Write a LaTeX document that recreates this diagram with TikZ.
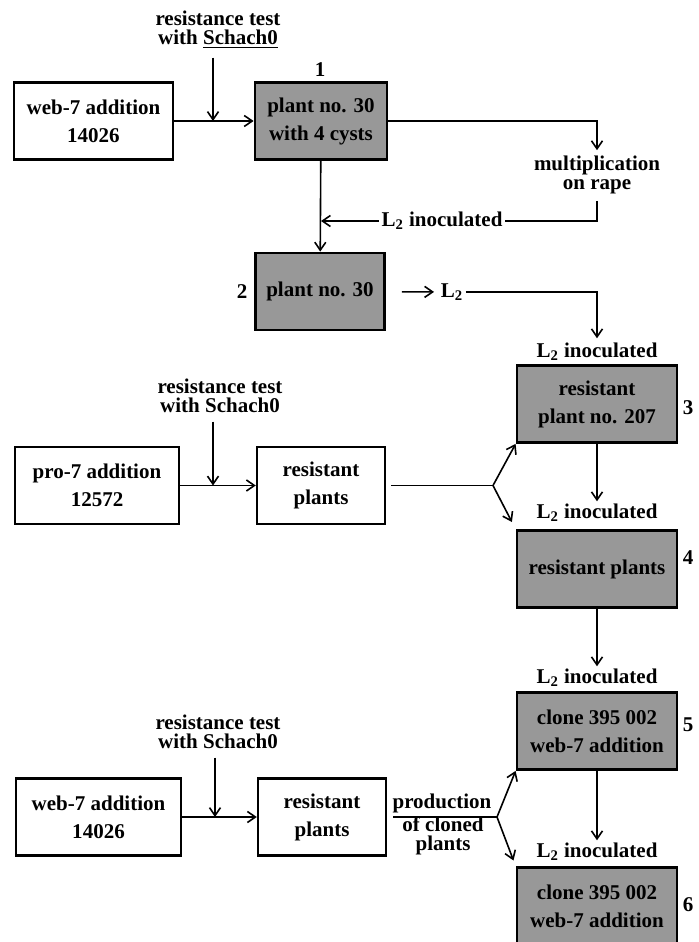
\documentclass[tikz,border=0pt]{standalone}
\usepackage{fontspec}
\setmainfont{Liberation Serif}
\usetikzlibrary{arrows.meta}
\definecolor{cystgray}{RGB}{152,152,152}

\begin{document}
\begin{tikzpicture}[thick, x=0.5pt, y=-0.5pt]
\tikzstyle{box} = [draw, line width=1.2pt, align=center, inner sep=0pt, minimum height=38.5pt, font=\bfseries\fontsize{10.5}{14}\selectfont]
\tikzstyle{grey box} = [box, fill=cystgray, line width=1.4pt, minimum width=80pt]
\tikzstyle{lbl} = [align=center, inner sep=1pt, font=\bfseries\fontsize{10.5}{9.5}\selectfont]
\tikzstyle{arr} = [-{Straight Barb[length=4pt,width=5.5pt]}]
\useasboundingbox (0,0) rectangle (698,942);

% top row
\node[lbl] (test1) at (218,30) {resistance test\\with \underline{Schach0}};
\node[box, minimum width=79.5pt] (web1) at (93.5,121) {web-7 addition\\14026};
\node[grey box, minimum width=66pt] (p30c) at (321,121) {plant no. 30\\with 4 cysts};
\node[lbl] (n1) at (320,70) {1};
\node[lbl] (mult) at (597,175) {multiplication\\on rape};
\node[lbl] (ino0) at (442,221) {L\textsubscript{2} inoculated};
\node[grey box, minimum width=64.5pt] (p30) at (320,291.5) {plant no. 30};
\node[lbl] (n2) at (242,292) {2};
\node[lbl] (l2) at (452,292) {L\textsubscript{2}};
\coordinate (j1) at (213,121);
\coordinate (j2) at (321,221);

\draw[arr] (web1) -- (p30c);
\draw[arr, shorten <=3pt] (test1.south -| j1) -- (j1);
\draw[arr, shorten >=1.5pt] (p30c) -| (mult);
\draw[shorten <=2pt] (mult) |- (ino0);
\draw[arr] (ino0) -- (j2);
\draw[arr] (p30c) -- (p30);
\draw[arr, shorten <=8pt, shorten >=2pt] (p30) -- (l2);

% right column
\node[lbl] (inoA) at (597,352) {L\textsubscript{2} inoculated};
\node[grey box] (r207) at (597,404) {resistant\\plant no. 207};
\node[lbl] (n3) at (688,408) {3};
\node[lbl] (inoB) at (597,513) {L\textsubscript{2} inoculated};
\node[grey box] (rp) at (597,569) {resistant plants};
\node[lbl] (n4) at (688,558) {4};
\node[lbl] (inoC) at (597,678) {L\textsubscript{2} inoculated};
\node[grey box] (cl1) at (597,731) {clone 395 002\\web-7 addition};
\node[lbl] (n5) at (688,725) {5};
\node[lbl] (inoD) at (597,852) {L\textsubscript{2} inoculated};
\node[grey box] (cl2) at (597,906) {clone 395 002\\web-7 addition};
\node[lbl] (n6) at (688,905) {6};

\draw[arr, shorten >=1pt] (l2) -| (inoA);
\draw[arr] (r207) -- (inoB);
\draw[arr] (rp) -- (inoC);
\draw[arr] (cl1) -- (inoD);

% middle row
\node[lbl] (test2) at (220,396) {resistance test\\with Schach0};
\node[box, minimum width=82pt] (pro7) at (97,485.5) {pro-7 addition\\12572};
\node[box, minimum width=64pt] (res1) at (321,485.5) {resistant\\plants};
\coordinate (j3) at (213,485.5);
\coordinate (b1) at (493,485.5);

\draw[arr] (pro7) -- (res1);
\draw[arr, shorten <=3pt] (test2.south -| j3) -- (j3);
\draw[shorten <=2.5pt] (res1) -- (b1);
\draw[arr] (b1) -- (r207.south west);
\draw[arr, shorten >=4pt] (b1) -- (rp.north west);

% bottom row
\node[lbl] (test3) at (218,732) {resistance test\\with Schach0};
\node[box, minimum width=82.5pt] (web2) at (98.5,817) {web-7 addition\\14026};
\node[box, minimum width=64pt] (res2) at (322,817) {resistant\\plants};
\node[lbl] (prod) at (442,803) {production};
\node[lbl] (cloned) at (443,836) {of cloned\\plants};
\coordinate (j4) at (215,817);
\coordinate (b2) at (497,817);

\draw[arr] (web2) -- (res2);
\draw[arr, shorten <=3pt] (test3.south -| j4) -- (j4);
\draw[shorten <=3pt] (res2) -- (b2);
\draw[arr] (b2) -- (cl1.south west);
\draw[arr, shorten >=3pt] (b2) -- (cl2.north west);
\end{tikzpicture}
\end{document}
